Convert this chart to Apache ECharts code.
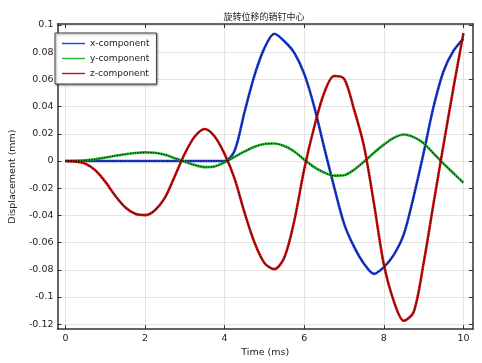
<!DOCTYPE html>
<html><head><meta charset="utf-8">
<script src="https://cdn.jsdelivr.net/npm/echarts@6/dist/echarts.min.js"></script>
<style>html,body{margin:0;padding:0;background:#fff}#c{width:482px;height:363px}</style>
</head><body><div id="c"></div>
<script>
const titleText = '旋转位移的销钉中心';
const xName = 'Time (ms)';
const yName = 'Displacement (mm)';
const seriesNames = ['x-component', 'y-component', 'z-component'];
const xTicks = [0, 2, 4, 6, 8, 10];
const yTicks = [-0.12, -0.1, -0.08, -0.06, -0.04, -0.02, 0, 0.02, 0.04, 0.06, 0.08, 0.1];
const time = [0,0.25,0.5,0.75,1,1.25,1.5,1.75,2,2.25,2.5,2.75,3,3.25,3.5,3.75,4,4.25,4.5,4.75,5,5.25,5.5,5.75,6,6.25,6.5,6.75,7,7.25,7.5,7.75,8,8.25,8.5,8.75,9,9.25,9.5,9.75,10];
const xComp = [0,0,0,0,0,0,0,0,0,0,0,0,0,0,0,0,0,0.0075,0.036,0.063,0.083,0.0935,0.088,0.0795,0.064,0.040,0.010,-0.019,-0.046,-0.063,-0.0755,-0.083,-0.078,-0.069,-0.054,-0.026,0.006,0.040,0.066,0.081,0.090];
const yComp = [0,0.0001,0.0005,0.0013,0.0025,0.0038,0.005,0.0059,0.0063,0.006,0.0045,0.002,-0.0005,-0.003,-0.0045,-0.004,-0.001,0.003,0.007,0.0105,0.0125,0.0128,0.011,0.007,0.001,-0.0045,-0.0085,-0.0108,-0.0105,-0.0065,-0.0005,0.006,0.012,0.017,0.0195,0.0175,0.013,0.0055,-0.002,-0.009,-0.016];
const zComp = [0,-0.0005,-0.002,-0.0068,-0.0152,-0.0255,-0.034,-0.0388,-0.0398,-0.0362,-0.027,-0.011,0.0055,0.018,0.0235,0.018,0.005,-0.013,-0.038,-0.060,-0.075,-0.0795,-0.071,-0.044,-0.006,0.025,0.050,0.0625,0.0605,0.038,0.011,-0.031,-0.076,-0.103,-0.1175,-0.111,-0.075,-0.031,0.012,0.054,0.094];
const colors = ['#1f3fe0', '#1fb52a', '#d41010'];

const chart = echarts.init(document.getElementById('c'));
const allVals = [xComp, yComp, zComp];
const pairs = v => time.map((t, i) => [t, v[i]]);
const series = [];
allVals.forEach((v, k) => {
  series.push({name: seriesNames[k], type: 'line', data: pairs(v), smooth: 0.3, symbol: 'none',
    lineStyle: {color: colors[k], width: 2.6}, itemStyle: {color: colors[k]}, z: 2});
});
allVals.forEach((v, k) => {
  series.push({name: seriesNames[k] + ' ', type: 'line', data: pairs(v), smooth: 0.3, symbol: 'none',
    lineStyle: {color: '#000', width: 1.1, type: [1, 1.6]}, z: 3, silent: true});
});
const lab = {fontSize: 9.5, color: '#222', fontFamily: 'DejaVu Sans'};
const fmt = v => String(+(+v).toFixed(2));
const frame = {onZero: false, show: true, lineStyle: {color: '#333', width: 1.5}};
chart.setOption({
  animation: false,
  title: {text: titleText, left: 259, top: 7, textAlign: 'center',
    textStyle: {fontSize: 9, fontWeight: 'normal', color: '#222', fontFamily: 'Noto Sans CJK SC'}},
  legend: {data: seriesNames, orient: 'vertical', left: 55, top: 33, itemWidth: 23, itemHeight: 10, itemGap: 6,
    padding: [6, 7, 6, 7], backgroundColor: '#fff', borderColor: '#444', borderWidth: 1,
    shadowColor: 'rgba(0,0,0,0.45)', shadowBlur: 2, shadowOffsetX: 1, shadowOffsetY: 1,
    textStyle: {fontSize: 9, color: '#222', fontFamily: 'DejaVu Sans'}, icon: 'path://M0,4.3L23,4.3L23,5.7L0,5.7Z'},
  grid: {left: 46, right: 9, top: 24, bottom: 28},
  xAxis: [
    {type: 'value', min: -0.2, max: 10.24, name: xName, nameLocation: 'middle', nameGap: 14,
      nameTextStyle: lab, axisLine: frame,
      axisTick: {inside: true, length: 4, customValues: xTicks, lineStyle: {color: '#333'}},
      axisLabel: {customValues: xTicks, formatter: fmt, ...lab, margin: 4},
      splitLine: {show: true, lineStyle: {color: '#e4e4e4', width: 1}}},
    {type: 'value', min: -0.2, max: 10.24, position: 'top', axisLine: frame,
      axisTick: {inside: true, length: 4, customValues: xTicks, lineStyle: {color: '#333'}},
      axisLabel: {show: false}, splitLine: {show: false}}
  ],
  yAxis: [
    {type: 'value', min: -0.1236, max: 0.1007, name: yName, nameLocation: 'middle', nameGap: 37,
      nameTextStyle: lab, axisLine: frame,
      axisTick: {show: true, inside: true, length: 4, customValues: yTicks, lineStyle: {color: '#333'}},
      axisLabel: {customValues: yTicks, formatter: fmt, ...lab, margin: 4},
      splitLine: {show: true, lineStyle: {color: '#e4e4e4', width: 1}}},
    {type: 'value', min: -0.1236, max: 0.1007, position: 'right', axisLine: frame,
      axisTick: {show: true, inside: true, length: 4, customValues: yTicks, lineStyle: {color: '#333'}},
      axisLabel: {show: false}, splitLine: {show: false}}
  ],
  series: series
});
</script></body></html>
